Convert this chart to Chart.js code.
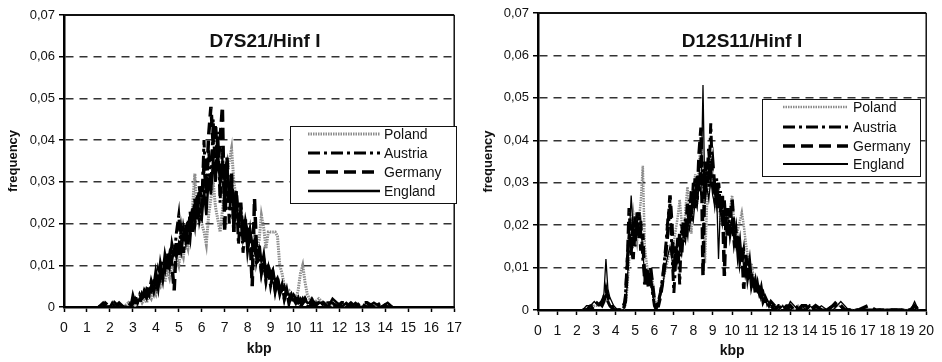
<!DOCTYPE html>
<html>
<head>
<meta charset="utf-8">
<script src="https://cdn.jsdelivr.net/npm/chart.js@4.4.1/dist/chart.umd.min.js"></script>
<style>
  body { margin: 0; background: #fff; }
  .panel { position: absolute; top: 0; height: 362px; }
</style>
</head>
<body>
<div class="panel" style="left:0;width:470px"><canvas id="left" width="470" height="362"></canvas></div>
<div class="panel" style="left:470px;width:472px"><canvas id="right" width="472" height="362"></canvas></div>
<script>
// D7S21/Hinf I - fragment sizes (kbp) and frequency per population
const kbpL = [1.5, 1.7, 1.8, 2.0, 2.1, 2.2, 2.4, 2.6, 2.8,
  2.9, 3.0, 3.1, 3.2, 3.3, 3.4, 3.5, 3.6, 3.7, 3.8, 3.9,
  4.0, 4.1, 4.2, 4.3, 4.4, 4.5, 4.6, 4.7, 4.8, 4.9,
  5.0, 5.1, 5.2, 5.3, 5.4, 5.5, 5.6, 5.7, 5.8, 5.9,
  6.0, 6.1, 6.2, 6.3, 6.4, 6.5, 6.6, 6.7, 6.8, 6.9,
  7.0, 7.1, 7.2, 7.3, 7.4, 7.5, 7.6, 7.7, 7.8, 7.9,
  8.0, 8.1, 8.2, 8.3, 8.4, 8.5, 8.6, 8.7, 8.8, 8.9,
  9.0, 9.1, 9.2, 9.3, 9.4, 9.5, 9.6, 9.7, 9.8, 9.9,
  10.0, 10.1, 10.2, 10.3, 10.4, 10.5, 10.6, 10.7, 10.8, 10.9,
  11.1, 11.3, 11.5, 11.7, 11.9, 12.1, 12.3, 12.5, 12.7, 12.9, 13.2, 13.5, 13.8, 14.1, 14.3];

const englandL = [0, 0.001, 0, 0, 0.001, 0, 0, 0, 0,
  0, 0.003, 0.001, 0.001, 0.002, 0.002, 0.003, 0.002, 0.004, 0.005, 0.004,
  0.007, 0.006, 0.009, 0.008, 0.011, 0.010, 0.013, 0.011, 0.014, 0.012,
  0.015, 0.013, 0.017, 0.016, 0.019, 0.018, 0.022, 0.021, 0.024, 0.022,
  0.021, 0.028, 0.022, 0.031, 0.027, 0.036, 0.030, 0.038, 0.029, 0.035,
  0.030, 0.034, 0.026, 0.031, 0.022, 0.027, 0.019, 0.024, 0.017, 0.021,
  0.018, 0.019, 0.015, 0.016, 0.013, 0.014, 0.011, 0.012, 0.009, 0.010,
  0.008, 0.009, 0.006, 0.007, 0.005, 0.004, 0.005, 0.003, 0.003, 0.002,
  0.003, 0.002, 0.001, 0.002, 0.001, 0.002, 0.001, 0.001, 0.002, 0.001,
  0.001, 0.001, 0, 0.002, 0.001, 0, 0.001, 0, 0.001, 0, 0, 0.001, 0, 0.001, 0];

const austriaL = [0, 0, 0.001, 0, 0, 0, 0.001, 0, 0,
  0.001, 0.001, 0.002, 0.001, 0.003, 0.002, 0.004, 0.003, 0.005, 0.004, 0.007,
  0.005, 0.009, 0.007, 0.011, 0.009, 0.013, 0.010, 0.015, 0.012, 0.018,
  0.022, 0.014, 0.019, 0.016, 0.021, 0.017, 0.024, 0.020, 0.027, 0.021,
  0.024, 0.040, 0.026, 0.038, 0.028, 0.045, 0.030, 0.042, 0.025, 0.038,
  0.024, 0.035, 0.020, 0.031, 0.018, 0.028, 0.015, 0.023, 0.013, 0.020,
  0.014, 0.018, 0.012, 0.015, 0.010, 0.013, 0.008, 0.011, 0.006, 0.009,
  0.005, 0.008, 0.004, 0.006, 0.003, 0.005, 0.002, 0.004, 0.002, 0.003,
  0.001, 0.002, 0.001, 0.001, 0.002, 0.001, 0, 0.001, 0.001, 0,
  0.001, 0, 0.001, 0.001, 0, 0.001, 0, 0.001, 0, 0.001, 0, 0, 0.001, 0, 0];

const germanyL = [0, 0, 0, 0, 0, 0.001, 0, 0, 0,
  0, 0.001, 0.002, 0.002, 0.001, 0.003, 0.002, 0.004, 0.003, 0.006, 0.004,
  0.008, 0.005, 0.010, 0.007, 0.012, 0.009, 0.013, 0.010, 0.004, 0.016,
  0.012, 0.018, 0.013, 0.020, 0.015, 0.023, 0.018, 0.026, 0.021, 0.029,
  0.024, 0.034, 0.028, 0.041, 0.048, 0.039, 0.044, 0.033, 0.040, 0.048,
  0.018, 0.036, 0.025, 0.032, 0.018, 0.028, 0.021, 0.025, 0.016, 0.021,
  0.014, 0.018, 0.005, 0.026, 0.012, 0.015, 0.009, 0.012, 0.007, 0.010,
  0.006, 0.008, 0.004, 0.007, 0.003, 0.005, 0.002, 0.004, 0.001, 0.003,
  0.002, 0.001, 0.002, 0, 0.001, 0.002, 0.001, 0, 0.001, 0.001,
  0, 0.001, 0, 0.001, 0, 0.001, 0.001, 0, 0, 0.001, 0.001, 0, 0, 0, 0];

const polandL = [0, 0, 0, 0, 0, 0, 0, 0, 0.001,
  0, 0.001, 0, 0.001, 0.002, 0.001, 0.002, 0.001, 0.003, 0.002, 0.004,
  0.003, 0.006, 0.005, 0.007, 0.006, 0.009, 0.007, 0.010, 0.009, 0.012,
  0.010, 0.014, 0.012, 0.016, 0.014, 0.019, 0.024, 0.032, 0.022, 0.025,
  0.020, 0.018, 0.015, 0.022, 0.026, 0.030, 0.024, 0.021, 0.018, 0.023,
  0.028, 0.032, 0.035, 0.038, 0.030, 0.026, 0.022, 0.024, 0.019, 0.020,
  0.017, 0.018, 0.015, 0.017, 0.014, 0.016, 0.022, 0.019, 0.014, 0.018,
  0.018, 0.018, 0.018, 0.017, 0.010, 0.008, 0.005, 0.004, 0.004, 0.003,
  0.003, 0.002, 0.004, 0.008, 0.010, 0.006, 0.003, 0.002, 0.002, 0.001,
  0.002, 0.001, 0.001, 0, 0.001, 0, 0, 0.001, 0, 0, 0, 0, 0, 0, 0];

// D12S11/Hinf I
const kbpR = [2.3, 2.5, 2.7, 2.9, 3.1, 3.3, 3.4, 3.5, 3.6, 3.7, 3.9, 4.1, 4.3,
  4.4, 4.5, 4.6, 4.7, 4.8, 4.9,
  5.0, 5.1, 5.2, 5.3, 5.4, 5.5, 5.6, 5.7, 5.8, 5.9,
  6.0, 6.1, 6.2, 6.3, 6.4, 6.5, 6.6, 6.7, 6.8, 6.9,
  7.0, 7.1, 7.2, 7.3, 7.4, 7.5, 7.6, 7.7, 7.8, 7.9,
  8.0, 8.1, 8.2, 8.3, 8.4, 8.5, 8.6, 8.7, 8.8, 8.9,
  9.0, 9.1, 9.2, 9.3, 9.4, 9.5, 9.6, 9.7, 9.8, 9.9,
  10.0, 10.1, 10.2, 10.3, 10.4, 10.5, 10.6, 10.7, 10.8, 10.9,
  11.0, 11.1, 11.2, 11.3, 11.4, 11.5, 11.6, 11.7, 11.8, 11.9,
  12.0,
  12.2, 12.4, 12.6, 12.8, 13.0, 13.2, 13.4, 13.6, 13.8, 14.0, 14.3, 14.6, 14.9,
  15.2, 15.4, 15.6, 15.8, 16.0, 16.5, 17.0, 17.4, 17.8, 18.2, 18.8, 19.2, 19.4, 19.6];

const englandR = [0, 0.001, 0.001, 0.002, 0.001, 0.002, 0.004, 0.012, 0.005, 0.003, 0.001, 0, 0,
  0, 0.001, 0.006, 0.017, 0.027, 0.019,
  0.016, 0.022, 0.018, 0.021, 0.013, 0.009, 0.007, 0.009, 0.006, 0.004,
  0.001, 0, 0.001, 0.003, 0.005, 0.008, 0.011, 0.013, 0.015, 0.012,
  0.010, 0.013, 0.011, 0.015, 0.013, 0.018, 0.016, 0.021, 0.019, 0.023,
  0.021, 0.026, 0.024, 0.030, 0.027, 0.053, 0.025, 0.029, 0.026, 0.031,
  0.027, 0.025, 0.028, 0.012, 0.025, 0.020, 0.023, 0.018, 0.021, 0.019,
  0.022, 0.017, 0.015, 0.017, 0.013, 0.014, 0.010, 0.012, 0.008, 0.009,
  0.006, 0.007, 0.005, 0.005, 0.003, 0.004, 0.002, 0.003, 0.001, 0.002,
  0.001,
  0.001, 0, 0.001, 0, 0.002, 0.001, 0, 0.001, 0, 0.001, 0, 0.001, 0,
  0, 0.001, 0.002, 0.001, 0, 0, 0, 0, 0, 0, 0, 0, 0.002, 0];

const austriaR = [0, 0, 0.001, 0.001, 0.002, 0.001, 0.002, 0.004, 0.002, 0.001, 0, 0, 0,
  0, 0.003, 0.012, 0.018, 0.013, 0.021,
  0.015, 0.023, 0.017, 0.021, 0.012, 0.008, 0.010, 0.006, 0.008, 0.004,
  0.001, 0, 0.002, 0.004, 0.007, 0.011, 0.016, 0.022, 0.025, 0.014,
  0.004, 0.012, 0.017, 0.006, 0.020, 0.016, 0.022, 0.019, 0.026, 0.021,
  0.030, 0.024, 0.032, 0.028, 0.036, 0.031, 0.027, 0.033, 0.029, 0.044,
  0.030, 0.026, 0.031, 0.024, 0.028, 0.021, 0.026, 0.019, 0.024, 0.018,
  0.021, 0.016, 0.019, 0.013, 0.016, 0.011, 0.014, 0.009, 0.011, 0.007,
  0.009, 0.005, 0.007, 0.004, 0.005, 0.003, 0.004, 0.002, 0.002, 0.001,
  0.002,
  0.001, 0.001, 0, 0.001, 0.001, 0, 0.001, 0, 0, 0.001, 0, 0, 0,
  0.001, 0.001, 0.001, 0, 0, 0, 0, 0, 0, 0, 0, 0, 0.001, 0];

const germanyR = [0, 0, 0, 0.001, 0.001, 0.002, 0.003, 0.005, 0.003, 0.002, 0, 0, 0,
  0.001, 0.002, 0.010, 0.024, 0.016, 0.012,
  0.022, 0.017, 0.023, 0.014, 0.018, 0.006, 0.009, 0.005, 0.010, 0.006,
  0.002, 0.001, 0.001, 0.003, 0.006, 0.010, 0.014, 0.019, 0.027, 0.020,
  0.009, 0.015, 0.011, 0.018, 0.013, 0.021, 0.017, 0.025, 0.020, 0.028,
  0.024, 0.031, 0.026, 0.037, 0.043, 0.008, 0.035, 0.030, 0.038, 0.032,
  0.035, 0.029, 0.026, 0.030, 0.023, 0.027, 0.008, 0.024, 0.017, 0.022,
  0.026, 0.019, 0.014, 0.018, 0.012, 0.015, 0.005, 0.013, 0.008, 0.011,
  0.006, 0.008, 0.004, 0.006, 0.003, 0.005, 0.002, 0.003, 0.002, 0.001,
  0.001,
  0, 0.001, 0.001, 0, 0.001, 0, 0, 0.001, 0.001, 0, 0.001, 0, 0,
  0.001, 0.002, 0.001, 0, 0, 0, 0.001, 0, 0, 0, 0, 0, 0.001, 0];

const polandR = [0, 0, 0, 0.001, 0.001, 0.001, 0.002, 0.003, 0.002, 0.001, 0, 0, 0,
  0, 0.001, 0.005, 0.012, 0.019, 0.023,
  0.019, 0.016, 0.021, 0.026, 0.034, 0.015, 0.011, 0.008, 0.009, 0.007,
  0.003, 0.001, 0.002, 0.004, 0.006, 0.008, 0.010, 0.012, 0.014, 0.013,
  0.016, 0.019, 0.022, 0.026, 0.021, 0.017, 0.024, 0.029, 0.022, 0.018,
  0.027, 0.032, 0.025, 0.035, 0.039, 0.030, 0.011, 0.024, 0.033, 0.037,
  0.032, 0.027, 0.024, 0.029, 0.020, 0.025, 0.022, 0.018, 0.021, 0.024,
  0.027, 0.021, 0.016, 0.019, 0.021, 0.023, 0.020, 0.016, 0.013, 0.010,
  0.011, 0.008, 0.006, 0.005, 0.004, 0.004, 0.003, 0.002, 0.002, 0.001,
  0.001,
  0.001, 0, 0.001, 0, 0.001, 0, 0.001, 0, 0, 0, 0, 0, 0,
  0, 0.001, 0.001, 0, 0, 0, 0, 0, 0, 0, 0, 0, 0.001, 0];

const legendOrder = ['Poland', 'Austria', 'Germany', 'England'];
const yTicks = [0, 0.01, 0.02, 0.03, 0.04, 0.05, 0.06, 0.07];

Chart.defaults.font.family = '"Liberation Sans", Arial, sans-serif';
Chart.defaults.color = '#111';

const toPoints = (xs, ys) => xs.map((x, i) => ({ x: x, y: ys[i] }));

// frame, title and legend drawn inside the plot area
const panelPlugin = {
  id: 'panel',
  afterDatasetsDraw(chart, args, opts) {
    const ctx = chart.ctx;
    const a = chart.chartArea;
    ctx.save();
    ctx.strokeStyle = '#111';
    ctx.lineWidth = 2;
    ctx.beginPath();
    ctx.moveTo(a.left, a.top);
    ctx.lineTo(a.right, a.top);
    ctx.stroke();
    ctx.lineWidth = 1.5;
    ctx.beginPath();
    ctx.moveTo(a.right, a.top);
    ctx.lineTo(a.right, a.bottom);
    ctx.stroke();

    ctx.fillStyle = '#111';
    ctx.font = 'bold 19px "Liberation Sans", Arial, sans-serif';
    ctx.textAlign = 'center';
    ctx.textBaseline = 'alphabetic';
    ctx.fillText(opts.title, opts.titleX, opts.titleY);

    const [bx, by, bw, bh] = opts.box;
    ctx.fillStyle = '#fff';
    ctx.fillRect(bx, by, bw, bh);
    ctx.strokeStyle = '#111';
    ctx.lineWidth = 1;
    ctx.strokeRect(bx + 0.5, by + 0.5, bw, bh);
    ctx.font = '14px "Liberation Sans", Arial, sans-serif';
    ctx.textAlign = 'left';
    ctx.textBaseline = 'middle';
    legendOrder.forEach((name, i) => {
      const ds = chart.data.datasets.find(d => d.label === name);
      const y = opts.rowY[i];
      ctx.save();
      ctx.strokeStyle = ds.borderColor;
      ctx.lineWidth = Math.max(ds.borderWidth, 2);
      ctx.setLineDash(ds.borderDash);
      ctx.beginPath();
      ctx.moveTo(opts.lineX[0], y);
      ctx.lineTo(opts.lineX[1], y);
      ctx.stroke();
      ctx.restore();
      ctx.fillStyle = '#111';
      ctx.fillText(name, opts.textX, y + 1);
    });
    ctx.restore();
  }
};

function makeChart(id, kbp, series, cfg) {
  const datasets = series.map(s => ({
    label: s.label,
    data: toPoints(kbp, s.values),
    borderColor: s.color,
    borderWidth: s.width,
    borderDash: s.dash,
    pointRadius: 0,
    tension: 0,
    fill: false
  }));
  return new Chart(document.getElementById(id), {
    type: 'line',
    data: { datasets: datasets },
    plugins: [panelPlugin],
    options: {
      responsive: false,
      animation: false,
      devicePixelRatio: 1,
      layout: { padding: { left: 0, right: cfg.padRight, top: cfg.padTop, bottom: 0 } },
      plugins: {
        legend: { display: false },
        tooltip: { enabled: false },
        panel: cfg.panel
      },
      scales: {
        x: {
          type: 'linear',
          min: 0,
          max: cfg.xMax,
          afterFit: s => { s.height = cfg.xHeight; },
          ticks: { stepSize: 1, autoSkip: false, maxRotation: 0, padding: 8, font: { size: 14 }, color: '#111' },
          grid: { drawOnChartArea: false, drawTicks: true, tickLength: 5, tickColor: '#000', tickWidth: 1.5 },
          border: { display: true, color: '#000', width: 2.5 },
          title: { display: true, text: 'kbp', font: { size: 14, weight: 'bold' }, color: '#111', padding: { top: 0, bottom: cfg.kbpPad } }
        },
        y: {
          min: 0,
          max: 0.07,
          afterFit: s => { s.width = cfg.yWidth; },
          afterBuildTicks: s => { s.ticks = yTicks.map(v => ({ value: v })); },
          ticks: {
            padding: 4,
            font: { size: 13 },
            color: '#111',
            callback: v => (v === 0 ? '0' : v.toFixed(2).replace('.', ','))
          },
          grid: {
            color: c => (c.tick && (c.tick.value === 0 || c.tick.value > 0.0695)) ? 'rgba(0,0,0,0)' : '#333',
            lineWidth: 1.5,
            tickLength: 5,
            tickColor: '#000',
            tickWidth: 1.5,
            tickBorderDash: []
          },
          border: { display: true, color: '#000', width: 2.5, dash: [8, 6] },
          title: { display: true, text: 'frequency', font: { size: 13, weight: 'bold' }, color: '#111', padding: { top: cfg.freqPad, bottom: 0 } }
        }
      }
    }
  });
}

makeChart('left', kbpL, [
  { label: 'England', values: englandL, color: '#000', width: 2.5, dash: [] },
  { label: 'Austria', values: austriaL, color: '#000', width: 3, dash: [12, 4, 3, 4] },
  { label: 'Germany', values: germanyL, color: '#000', width: 3.5, dash: [12, 6] },
  { label: 'Poland', values: polandL, color: '#8c8c8c', width: 3, dash: [1.5, 1] }
], {
  xMax: 17, padRight: 11, padTop: 15, xHeight: 55, yWidth: 64, kbpPad: 4, freqPad: 6,
  panel: { title: 'D7S21/Hinf I', titleX: 265, titleY: 47, box: [290, 126, 166, 77],
    rowY: [134, 153, 172, 191], lineX: [308, 380], textX: 384 }
});

makeChart('right', kbpR, [
  { label: 'England', values: englandR, color: '#000', width: 1.3, dash: [] },
  { label: 'Austria', values: austriaR, color: '#000', width: 3, dash: [12, 4, 3, 4] },
  { label: 'Germany', values: germanyR, color: '#000', width: 3.5, dash: [12, 6] },
  { label: 'Poland', values: polandR, color: '#8c8c8c', width: 2.5, dash: [1.5, 1] }
], {
  xMax: 20, padRight: 12, padTop: 13, xHeight: 52, yWidth: 68, kbpPad: 2, freqPad: 11,
  panel: { title: 'D12S11/Hinf I', titleX: 272, titleY: 47, box: [292, 99, 158, 77],
    rowY: [107, 127, 146, 164], lineX: [313, 378], textX: 383 }
});
</script>
</body>
</html>
